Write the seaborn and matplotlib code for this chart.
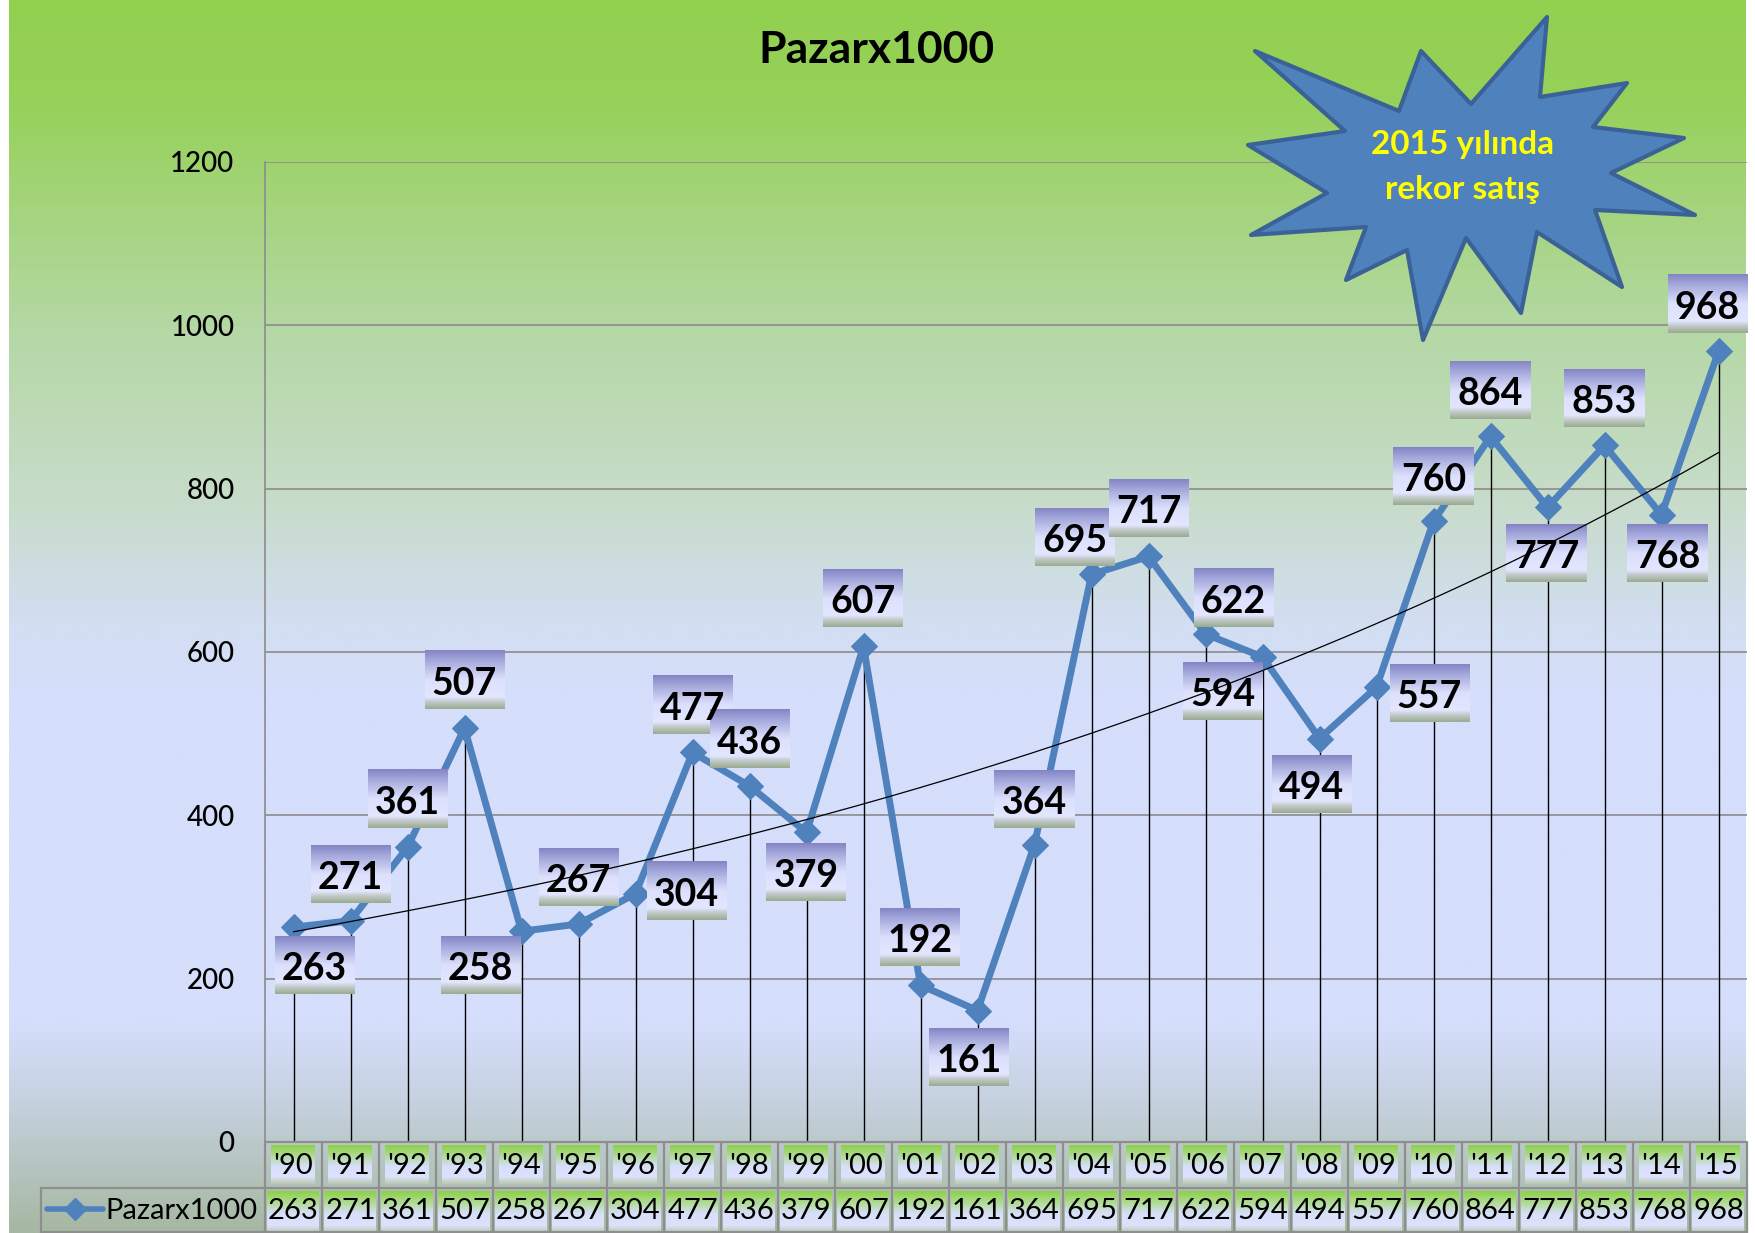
import numpy as np
import pandas as pd
import matplotlib.pyplot as plt
import seaborn as sns
from matplotlib.colors import to_rgb
from matplotlib.patches import Polygon

# --- Data ---
years = ["'90", "'91", "'92", "'93", "'94", "'95", "'96", "'97", "'98", "'99",
         "'00", "'01", "'02", "'03", "'04", "'05", "'06", "'07", "'08", "'09",
         "'10", "'11", "'12", "'13", "'14", "'15"]
sales = [263, 271, 361, 507, 258, 267, 304, 477, 436, 379,
         607, 192, 161, 364, 695, 717, 622, 594, 494, 557,
         760, 864, 777, 853, 768, 968]
series_name = 'Pazarx1000'
title = 'Pazarx1000'
callout = '2015 yılında\nrekor satış'
yticks = [0, 200, 400, 600, 800, 1000, 1200]

# label box offsets from the point, pixels (dx, dy up)
label_offsets = [(21, -38), (0, 47), (0, 48), (0, 48), (-41, -34), (0, 47),
                 (51, 3), (0, 47), (0, 47), (0, -40), (0, 48), (0, 48),
                 (-8, -46), (0, 46), (-17, 37), (0, 48), (28, 36), (-40, -34),
                 (-8, -45), (53, -6), (0, 45), (0, 46), (-1, -46), (0, 47),
                 (6, -38), (-11, 47)]

# starburst outline, figure pixels
star_pts = [(1255, 51), (1399, 111), (1421, 51), (1471, 104), (1547, 17),
            (1540, 97), (1627, 83), (1593, 127), (1684, 138), (1611, 173),
            (1695, 215), (1595, 210), (1622, 287), (1537, 232), (1521, 313),
            (1466, 238), (1423, 340), (1407, 250), (1346, 280), (1366, 227),
            (1251, 235), (1327, 193), (1248, 145), (1345, 131)]

W, H = 1755, 1233
BLUE = '#4F81BD'

sns.set_style('white')
plt.rcParams['font.family'] = ['Lato', 'DejaVu Sans']
plt.rcParams['text.color'] = 'black'
plt.rcParams['ytick.labelcolor'] = 'black'


def gradient(stops, n=256):
    pos = [s[0] for s in stops]
    cols = np.array([to_rgb(s[1]) for s in stops])
    t = np.linspace(0, 1, n)
    arr = np.stack([np.interp(t, pos, cols[:, k]) for k in range(3)], axis=1)
    return arr[:, None, :]


bg_grad = gradient([(0.0, '#92D050'), (0.08, '#96D159'), (0.27, '#B5D8A6'),
                    (0.41, '#C8DCCB'), (0.50, '#D2DEF0'), (0.56, '#D5DEFB'),
                    (0.83, '#D5DEFC'), (0.89, '#C7D2E2'), (1.0, '#A6B8A2')])
box_grad = gradient([(0.0, '#8484C4'), (0.15, '#9FA3D8'), (0.5, '#DCE0FC'),
                     (0.8, '#E2E6FE'), (0.87, '#C4CCCC'), (1.0, '#9AAA90')])
cell_grad = gradient([(0.0, '#8CD048'), (0.22, '#A9D982'), (0.55, '#D8DFFC'),
                      (0.82, '#DCE2FA'), (1.0, '#B8C8B0')])

fig = plt.figure(figsize=(W / 100, H / 100), dpi=100, facecolor='white')

# background
bg = fig.add_axes([0, 0, 1, 1], zorder=-10)
bg.imshow(bg_grad, extent=[9, 1746, H, 0], aspect='auto', interpolation='bilinear')
bg.set_xlim(0, W)
bg.set_ylim(H, 0)
bg.axis('off')

# main plot
ax = fig.add_axes([265 / W, (H - 1142) / H, 1482 / W, 980 / H], zorder=1)
ax.patch.set_alpha(0)

df = pd.DataFrame({'idx': np.arange(len(years)), 'year': years, 'sales': sales})

ax.vlines(df['idx'], 0, df['sales'], color='black', lw=1.0, zorder=2)
sns.lineplot(data=df, x='idx', y='sales', ax=ax, color=BLUE, linewidth=5,
             marker='D', markersize=13, markeredgecolor=BLUE, zorder=3)

# exponential trendline (least squares on log values)
coef = np.polyfit(df['idx'], np.log(df['sales']), 1)
xt = np.linspace(0, len(years) - 1, 300)
ax.plot(xt, np.exp(coef[1] + coef[0] * xt), color='black', lw=0.9, zorder=7)

ax.set_xlim(-0.5, len(years) - 0.5)
ax.set_ylim(0, 1200)
ax.set_yticks(yticks)
ax.set_xticks([])
ax.set_xlabel('')
ax.set_ylabel('')
ax.yaxis.grid(True, color='#8C8C8C', lw=1.2)
ax.set_axisbelow(True)
for s in ['top', 'right', 'bottom']:
    ax.spines[s].set_visible(False)
ax.spines['left'].set_color('#8C8C8C')
ax.spines['left'].set_linewidth(1.2)
ax.tick_params(axis='y', length=5, color='#8C8C8C', labelsize=20, pad=17)
for lab in ax.get_yticklabels():
    lab.set_fontweight('medium')

# data label boxes
bw, bh = 80, 58
inv = ax.transData.inverted()
for i, (v, (dx, dy)) in enumerate(zip(sales, label_offsets)):
    cx, cy = ax.transData.transform((i, v))
    cx += dx
    cy += dy
    x0, y0 = inv.transform((cx - bw / 2, cy - bh / 2))
    x1, y1 = inv.transform((cx + bw / 2, cy + bh / 2))
    ax.imshow(box_grad, extent=[x0, x1, y0, y1], aspect='auto', zorder=5,
              clip_on=False, interpolation='bilinear')
    tx, ty = inv.transform((cx, cy - 15))
    ax.text(tx, ty, str(v), ha='center', va='baseline', fontsize=27,
            fontweight='bold', color='black', zorder=6)
ax.set_xlim(-0.5, len(years) - 0.5)
ax.set_ylim(0, 1200)

# overlay in figure pixels: title, callout, data table
ov = fig.add_axes([0, 0, 1, 1], zorder=5)
ov.set_xlim(0, W)
ov.set_ylim(H, 0)
ov.axis('off')
ov.patch.set_alpha(0)

ov.text(876, 50, title, ha='center', va='center', fontsize=32, fontweight='bold')

ov.add_patch(Polygon(star_pts, closed=True, fc=BLUE, ec='#3B6296', lw=3,
                     joinstyle='round'))
ov.text(1463, 167, callout, ha='center', va='center', color='#FFFF00',
        fontsize=24, fontweight='bold', linespacing=1.65)

# data table
cw = 57
x_start = 265
n = len(years)
x_end = x_start + cw * n
border = dict(color='#8E8E8E', lw=1.6)
ov.plot([x_start, x_end], [1142, 1142], **border)
ov.plot([41, x_end], [1188, 1188], **border)
ov.plot([41, x_end], [1232, 1232], **border)
ov.plot([41, 41], [1188, H], **border)
for k in range(n + 1):
    ov.plot([x_start + cw * k] * 2, [1142, H], **border)

for i, (yr, v) in enumerate(zip(years, sales)):
    cx = x_start + cw * (i + 0.5)
    ov.imshow(cell_grad, extent=[cx - 22, cx + 22, 1184, 1145], aspect='auto',
              interpolation='bilinear', zorder=1)
    ov.imshow(cell_grad, extent=[cx - 26, cx + 26, 1233, 1191], aspect='auto',
              interpolation='bilinear', zorder=1)
    ov.text(cx, 1166, yr, ha='center', va='center', fontsize=21, zorder=2)
    ov.text(cx, 1211, str(v), ha='center', va='center', fontsize=21, zorder=2)

ov.plot([47, 103], [1209, 1209], color=BLUE, lw=4)
ov.plot([75], [1209], marker='D', color=BLUE, markersize=11)
ov.text(105, 1211, series_name, ha='left', va='center', fontsize=21)
ov.set_xlim(0, W)
ov.set_ylim(H, 0)

fig.savefig('out.png', dpi=100, facecolor='white')
